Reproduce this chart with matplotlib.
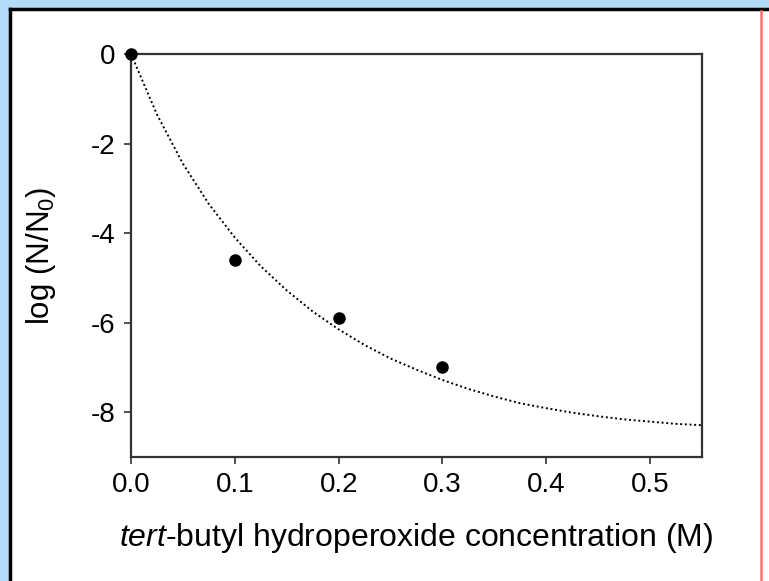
import matplotlib
matplotlib.use("Agg")
import matplotlib.pyplot as plt
from matplotlib.patches import Rectangle
from matplotlib.lines import Line2D

plt.rcParams["font.family"] = ["Liberation Sans", "DejaVu Sans"]
plt.rcParams["mathtext.fontset"] = "custom"
plt.rcParams["mathtext.rm"] = "Liberation Sans"
plt.rcParams["mathtext.it"] = "Liberation Sans:italic"
plt.rcParams["axes.unicode_minus"] = False

# measured points
conc = [0.0, 0.1, 0.2, 0.3]
log_surv = [0.0, -4.6, -5.9, -7.0]

# fitted curve
fit_x = [0.0, 0.025, 0.05, 0.075, 0.1, 0.125, 0.15, 0.175, 0.2, 0.225, 0.25,
         0.275, 0.3, 0.325, 0.35, 0.375, 0.4, 0.425, 0.45, 0.475, 0.5, 0.525, 0.55]
fit_y = [0.0, -1.35, -2.45, -3.35, -4.1, -4.74, -5.28, -5.75, -6.15, -6.5, -6.8,
         -7.05, -7.28, -7.48, -7.65, -7.8, -7.91, -8.01, -8.09, -8.16, -8.21, -8.26, -8.29]

x_ticks = [0.0, 0.1, 0.2, 0.3, 0.4, 0.5]
y_ticks = [0, -2, -4, -6, -8]

fig = plt.figure(figsize=(7.69, 5.81), dpi=100, facecolor="#b3dbf8")

# white panel with black edge on left/top, red line on the right
W, H = 769, 581
fig.patches.append(Rectangle((10 / W, 0), 1 - 10 / W, 1 - 9 / H, transform=fig.transFigure,
                             facecolor="white", edgecolor="none", zorder=-5))
fig.lines.append(Line2D([10 / W, 10 / W], [0, 1 - 9 / H], transform=fig.transFigure,
                        color="black", lw=2.5, zorder=-4))
fig.lines.append(Line2D([10 / W, 1], [1 - 9 / H, 1 - 9 / H], transform=fig.transFigure,
                        color="black", lw=2.5, zorder=-4))
fig.lines.append(Line2D([761 / W, 761 / W], [0, 1 - 11 / H], transform=fig.transFigure,
                        color="#ff6f6f", lw=1.8, zorder=-4))

ax = fig.add_axes([131 / W, 1 - 457 / H, 571 / W, 403 / H])
ax.set_zorder(5)
ax.set_facecolor("white")

ax.plot(fit_x, fit_y, linestyle=(0, (1, 1.4)), color="black", lw=1.4)
ax.plot(conc, log_surv, "o", color="black", markersize=8, clip_on=False, zorder=5)

ax.set_xlim(0, 0.55)
ax.set_ylim(-9, 0)
ax.set_xticks(x_ticks)
ax.set_xticklabels([f"{v:.1f}" for v in x_ticks])
ax.set_yticks(y_ticks)
ax.set_yticklabels([str(v) for v in y_ticks])

for s in ax.spines.values():
    s.set_color("#333333")
    s.set_linewidth(1.6)
ax.tick_params(direction="out", length=5, width=1.2, color="#333333",
               labelsize=20, pad=6)

ax.set_xlabel(r"$\it{tert}$-butyl hydroperoxide concentration (M)", fontsize=23)
ax.set_ylabel(r"log (N/N$_0$)", fontsize=22.5)
ax.xaxis.set_label_coords(0.5, -0.16)
ax.yaxis.set_label_coords(-0.128, 0.5)

fig.savefig("out.png", dpi=100, facecolor=fig.get_facecolor())
